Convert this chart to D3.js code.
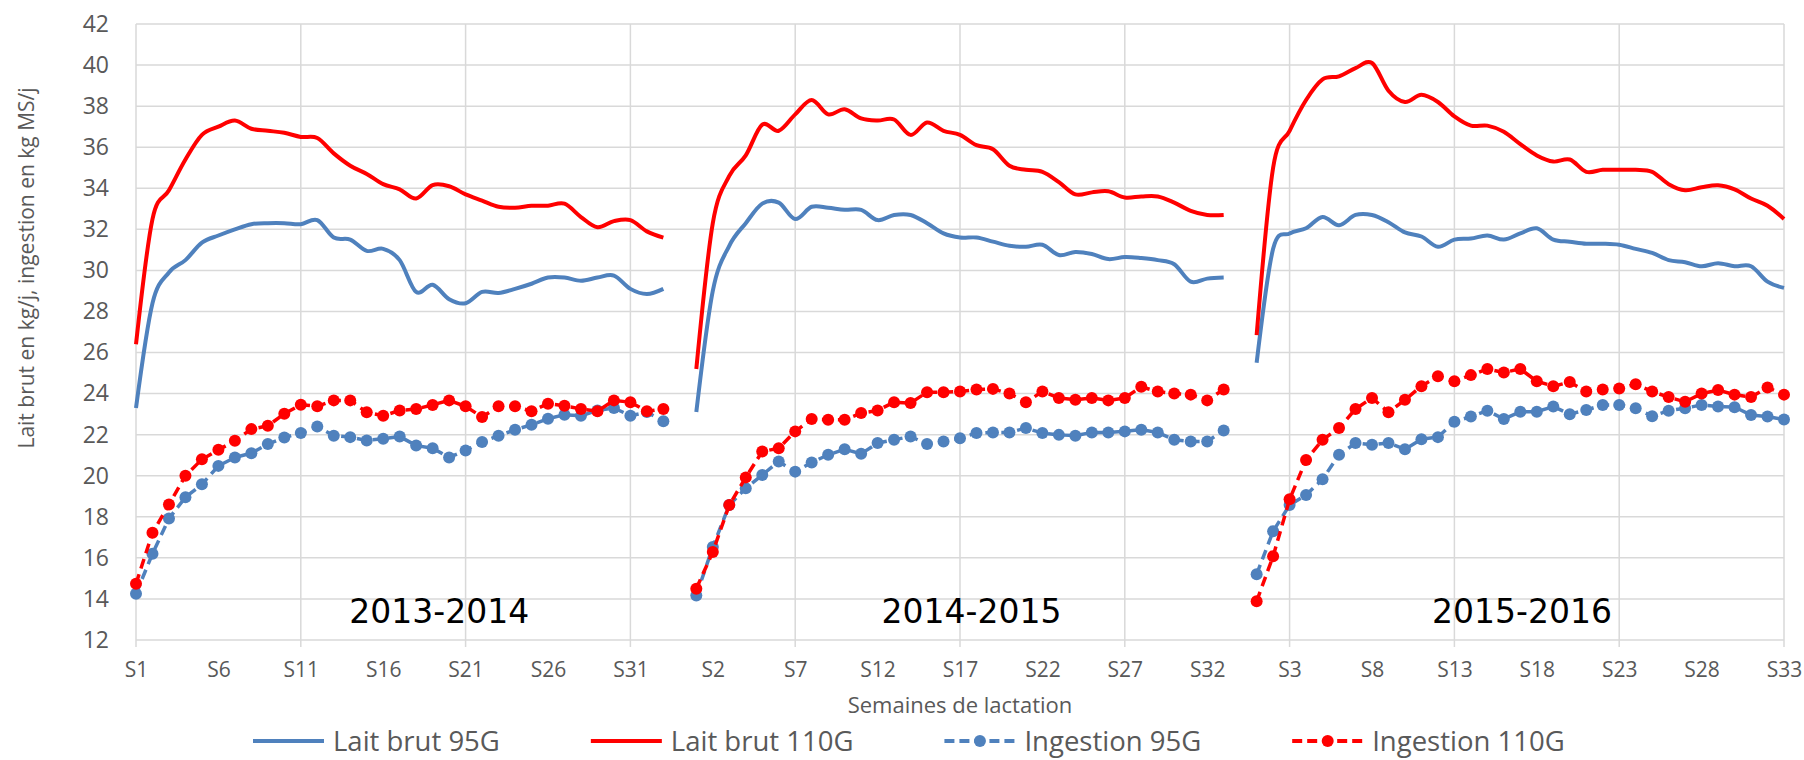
<!DOCTYPE html>
<html>
<head>
<meta charset="utf-8">
<title>Lait brut et ingestion</title>
<script src="https://cdn.jsdelivr.net/npm/d3@7"></script>
<style>
    html, body { margin: 0; padding: 0; background: #fff; }
    svg { display: block; }
    .tick text { fill: #595959; font-family: 'Open Sans', sans-serif; }
    .grid line { stroke: #d9d9d9; stroke-width: 1.5px; }
</style>
</head>
<body>
<script>

    // categories: weeks of lactation, one list per season
    var weeks1 = ["S1","S2","S3","S4","S5","S6","S7","S8","S9","S10","S11","S12","S13","S14","S15","S16","S17",
                  "S18","S19","S20","S21","S22","S23","S24","S25","S26","S27","S28","S29","S30","S31","S32","S33","S34"];
    var weeks2 = ["S1","S2","S3","S4","S5","S6","S7","S8","S9","S10","S11","S12","S13","S14","S15","S16","S17",
                  "S18","S19","S20","S21","S22","S23","S24","S25","S26","S27","S28","S29","S30","S31","S32","S33","S34"];
    var weeks3 = ["S1","S2","S3","S4","S5","S6","S7","S8","S9","S10","S11","S12","S13","S14","S15","S16","S17",
                  "S18","S19","S20","S21","S22","S23","S24","S25","S26","S27","S28","S29","S30","S31","S32","S33"];

    var seasons = ["2013-2014", "2014-2015", "2015-2016"];

    // Lait brut 95G (kg/j)
    var lait95_1 = [23.3, 28.4, 29.9, 30.5, 31.35, 31.7, 32.0, 32.25, 32.3, 32.3, 32.25, 32.45, 31.6, 31.5, 30.95, 31.05, 30.5,
                    28.95, 29.3, 28.6, 28.4, 28.95, 28.9, 29.1, 29.35, 29.65, 29.65, 29.5, 29.65, 29.75, 29.1, 28.85, 29.1];
    var lait95_2 = [23.1, 29.0, 31.2, 32.3, 33.25, 33.3, 32.5, 33.1, 33.05, 32.95, 32.95, 32.45, 32.7, 32.7, 32.3, 31.8, 31.6,
                    31.6, 31.4, 31.2, 31.15, 31.25, 30.75, 30.9, 30.8, 30.55, 30.65, 30.6, 30.5, 30.3, 29.45, 29.6, 29.65];
    var lait95_3 = [25.5, 31.05, 31.8, 32.05, 32.6, 32.2, 32.7, 32.7, 32.35, 31.85, 31.65, 31.15, 31.5, 31.55, 31.7, 31.5, 31.8,
                    32.05, 31.5, 31.4, 31.3, 31.3, 31.25, 31.05, 30.85, 30.5, 30.4, 30.2, 30.35, 30.2, 30.2, 29.45, 29.15];

    // Lait brut 110G (kg/j)
    var lait110_1 = [26.4, 32.5, 33.9, 35.4, 36.6, 37.0, 37.3, 36.9, 36.8, 36.7, 36.5, 36.45, 35.7, 35.1, 34.7, 34.2, 33.95,
                     33.5, 34.15, 34.1, 33.7, 33.4, 33.1, 33.05, 33.15, 33.15, 33.25, 32.6, 32.1, 32.4, 32.45, 31.9, 31.6];
    var lait110_2 = [25.2, 32.3, 34.6, 35.6, 37.1, 36.8, 37.6, 38.3, 37.6, 37.85, 37.4, 37.3, 37.35, 36.6, 37.2, 36.8, 36.6,
                     36.1, 35.9, 35.1, 34.9, 34.8, 34.3, 33.7, 33.8, 33.85, 33.55, 33.6, 33.6, 33.3, 32.9, 32.7, 32.7];
    var lait110_3 = [26.85, 35.0, 36.8, 38.3, 39.3, 39.45, 39.85, 40.1, 38.75, 38.2, 38.55, 38.2, 37.5, 37.05, 37.05, 36.75, 36.15,
                     35.6, 35.3, 35.4, 34.8, 34.9, 34.9, 34.9, 34.8, 34.2, 33.9, 34.05, 34.15, 33.95, 33.5, 33.15, 32.5];

    // Ingestion 95G (kg MS/j)
    var ing95_1 = [14.25, 16.2, 17.92, 18.95, 19.58, 20.48, 20.89, 21.1, 21.54, 21.86, 22.08, 22.4, 21.95, 21.88, 21.72, 21.8, 21.91,
                   21.47, 21.34, 20.89, 21.23, 21.64, 21.95, 22.24, 22.48, 22.78, 22.97, 22.92, 23.18, 23.3, 22.92, 23.1, 22.65];
    var ing95_2 = [14.17, 16.53, 18.57, 19.39, 20.04, 20.69, 20.2, 20.64, 21.02, 21.29, 21.07, 21.59, 21.75, 21.91, 21.54, 21.67, 21.83,
                   22.08, 22.11, 22.11, 22.32, 22.08, 21.99, 21.95, 22.11, 22.11, 22.16, 22.24, 22.11, 21.75, 21.67, 21.67, 22.2];
    var ing95_3 = [15.2, 17.3, 18.57, 19.06, 19.83, 21.02, 21.59, 21.51, 21.59, 21.29, 21.78, 21.88, 22.63, 22.88, 23.17, 22.76, 23.12,
                   23.12, 23.37, 23.0, 23.2, 23.45, 23.45, 23.29, 22.9, 23.17, 23.29, 23.45, 23.37, 23.34, 22.96, 22.88, 22.74];

    // Ingestion 110G (kg MS/j)
    var ing110_1 = [14.74, 17.22, 18.6, 20.0, 20.8, 21.26, 21.7, 22.27, 22.43, 23.02, 23.46, 23.38, 23.67, 23.67, 23.09, 22.92, 23.18,
                    23.25, 23.45, 23.67, 23.38, 22.86, 23.38, 23.38, 23.14, 23.51, 23.41, 23.25, 23.14, 23.67, 23.58, 23.14, 23.25];
    var ing110_2 = [14.5, 16.29, 18.57, 19.92, 21.18, 21.34, 22.16, 22.76, 22.73, 22.73, 23.05, 23.18, 23.58, 23.54, 24.07, 24.07, 24.1,
                    24.2, 24.23, 24.0, 23.58, 24.1, 23.79, 23.7, 23.79, 23.67, 23.79, 24.33, 24.1, 24.0, 23.95, 23.67, 24.2];
    var ing110_3 = [13.89, 16.08, 18.85, 20.77, 21.75, 22.32, 23.25, 23.79, 23.09, 23.7, 24.36, 24.85, 24.6, 24.9, 25.2, 25.03, 25.2,
                    24.6, 24.36, 24.56, 24.1, 24.2, 24.25, 24.45, 24.1, 23.83, 23.6, 24.0, 24.17, 23.95, 23.83, 24.3, 23.95];

    var yTicks = [12, 14, 16, 18, 20, 22, 24, 26, 28, 30, 32, 34, 36, 38, 40, 42];

    // one category axis for the three seasons, empty week between them
    var cats = weeks1.concat(weeks2, weeks3);

    var joinSeasons = function(a, b, c) {
        var pad = function(s, n) {
            var out = s.slice();
            while (out.length < n) out.push(null);
            return out;
        };
        return pad(a, weeks1.length).concat(pad(b, weeks2.length), pad(c, weeks3.length));
    };

    var series = [
        { name: "Lait brut 95G",  color: "#4f81bd", values: joinSeasons(lait95_1, lait95_2, lait95_3),    dashed: false },
        { name: "Lait brut 110G", color: "#ff0000", values: joinSeasons(lait110_1, lait110_2, lait110_3), dashed: false },
        { name: "Ingestion 95G",  color: "#4f81bd", values: joinSeasons(ing95_1, ing95_2, ing95_3),       dashed: true },
        { name: "Ingestion 110G", color: "#ff0000", values: joinSeasons(ing110_1, ing110_2, ing110_3),    dashed: true }
    ];

    var width = 1804, height = 760;
    var plot = { left: 136, right: 1784, top: 24, bottom: 640 };

    var svg = d3.select("body").append("svg")
        .attr("width", width)
        .attr("height", height);

    var x = d3.scaleLinear().domain([0, cats.length - 1]).range([plot.left, plot.right]);
    var y = d3.scaleLinear().domain([12, 42]).range([plot.bottom, plot.top]);

    // horizontal gridlines
    svg.append("g").attr("class", "grid")
        .selectAll("line").data(yTicks).enter().append("line")
        .attr("x1", plot.left).attr("x2", plot.right)
        .attr("y1", function(d) { return y(d); })
        .attr("y2", function(d) { return y(d); });

    // vertical gridlines every 10 weeks, running a bit under the axis as tick marks
    svg.append("g").attr("class", "grid")
        .selectAll("line").data(d3.range(0, cats.length, 10)).enter().append("line")
        .attr("x1", function(d) { return x(d); })
        .attr("x2", function(d) { return x(d); })
        .attr("y1", plot.top).attr("y2", plot.bottom + 7);

    var yAxis = svg.append("g")
        .attr("transform", "translate(" + plot.left + ",0)")
        .call(d3.axisLeft(y).tickValues(yTicks).tickSize(0).tickPadding(27));
    yAxis.select(".domain").remove();
    yAxis.selectAll("text").style("font-size", "23px");

    var xAxis = svg.append("g")
        .attr("transform", "translate(0," + plot.bottom + ")")
        .call(d3.axisBottom(x)
            .tickValues(d3.range(0, cats.length, 5))
            .tickFormat(function(i) { return cats[i]; })
            .tickSize(0).tickPadding(22));
    xAxis.select(".domain").remove();
    xAxis.selectAll("text").style("font-size", "21px");

    // axis titles
    svg.append("text")
        .attr("transform", "translate(26,268) rotate(-90)")
        .attr("text-anchor", "middle")
        .attr("dominant-baseline", "central")
        .style("font-family", "'Open Sans', sans-serif")
        .style("font-size", "21px")
        .style("fill", "#595959")
        .text("Lait brut en kg/j, ingestion en kg MS/j");

    svg.append("text")
        .attr("x", (plot.left + plot.right) / 2)
        .attr("y", 713)
        .attr("text-anchor", "middle")
        .style("font-family", "'Open Sans', sans-serif")
        .style("font-size", "22px")
        .style("fill", "#595959")
        .text("Semaines de lactation");

    // lines
    var smooth = d3.line()
        .defined(function(d) { return d !== null; })
        .x(function(d, i) { return x(i); })
        .y(function(d) { return y(d); })
        .curve(d3.curveCatmullRom.alpha(0));

    var straight = d3.line()
        .defined(function(d) { return d !== null; })
        .x(function(d, i) { return x(i); })
        .y(function(d) { return y(d); });

    series.forEach(function(s) {
        svg.append("path")
            .attr("d", s.dashed ? straight(s.values) : smooth(s.values))
            .attr("fill", "none")
            .attr("stroke", s.color)
            .attr("stroke-width", s.dashed ? 3.5 : 4)
            .attr("stroke-dasharray", s.dashed ? "10,6" : null)
            .attr("stroke-linejoin", "round");

        if (s.dashed) {
            svg.append("g").selectAll("circle")
                .data(s.values.map(function(v, i) { return { v: v, i: i }; })
                              .filter(function(d) { return d.v !== null; }))
                .enter().append("circle")
                .attr("cx", function(d) { return x(d.i); })
                .attr("cy", function(d) { return y(d.v); })
                .attr("r", 6)
                .attr("fill", s.color);
        }
    });

    // season labels, centred under each lactation
    var seasonAt = [18.4, 50.7, 84.1];
    svg.append("g").selectAll("text").data(seasons).enter().append("text")
        .attr("x", function(d, i) { return x(seasonAt[i]); })
        .attr("y", 623)
        .attr("text-anchor", "middle")
        .style("font-family", "'DejaVu Sans', sans-serif")
        .style("font-size", "33px")
        .style("fill", "#000")
        .text(function(d) { return d; });

    // legend, kept just inside the bottom edge
    var legend = svg.append("g");
    var lx = 253, ly = 741;
    series.forEach(function(s) {
        legend.append("line")
            .attr("x1", lx).attr("x2", lx + 71)
            .attr("y1", ly).attr("y2", ly)
            .attr("stroke", s.color)
            .attr("stroke-width", 4)
            .attr("stroke-dasharray", s.dashed ? "10,5" : null);
        if (s.dashed) {
            legend.append("circle")
                .attr("cx", lx + 35.5).attr("cy", ly)
                .attr("r", 6)
                .attr("fill", s.color);
        }
        var t = legend.append("text")
            .attr("x", lx + 80)
            .attr("y", ly)
            .attr("dy", "0.35em")
            .style("font-family", "'Open Sans', sans-serif")
            .style("font-size", "27.5px")
            .style("fill", "#595959")
            .text(s.name);
        lx = lx + 80 + t.node().getComputedTextLength() + 91;
    });

</script>
</body>
</html>
